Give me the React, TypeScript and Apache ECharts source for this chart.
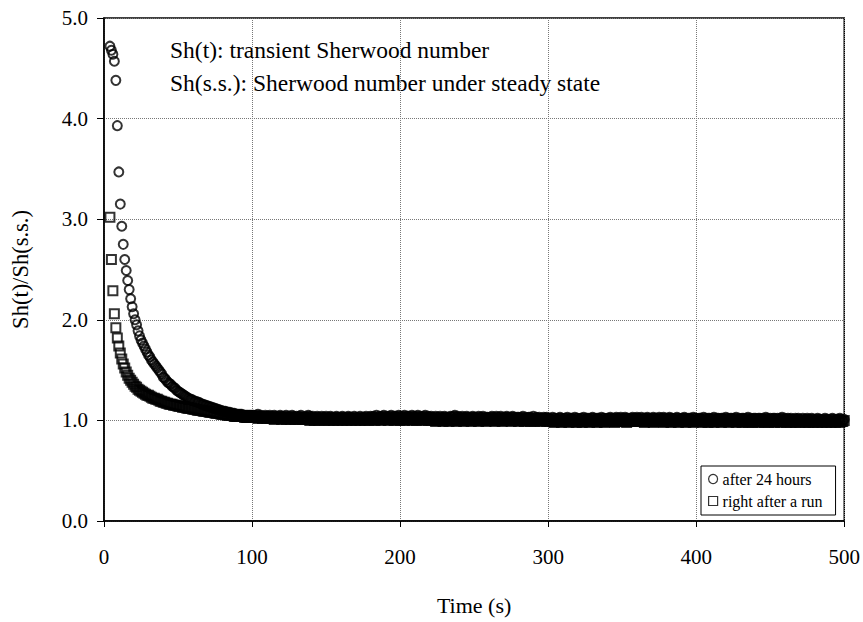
import React, { useEffect, useRef } from "react";
import * as echarts from "echarts";

// Sampling grid: one reading per second from t = 4 s to t = 500 s
const FIRST_TIME = 4;
const TIME_STEP = 1;

// "after 24 hours" (circles), t = 4..100 s
const circleEarly = [
  4.72, 4.68, 4.64, 4.57, 4.38, 3.93, 3.47, 3.15, 2.93, 2.75,
  2.60, 2.49, 2.39, 2.30, 2.21, 2.13, 2.06, 2.00, 1.95, 1.89,
  1.84, 1.80, 1.77, 1.74, 1.71, 1.68, 1.65, 1.63, 1.60, 1.58,
  1.56, 1.54, 1.52, 1.50, 1.48, 1.46, 1.43, 1.42, 1.40, 1.38,
  1.37, 1.36, 1.34, 1.33, 1.32, 1.30, 1.29, 1.28, 1.27, 1.26,
  1.25, 1.24, 1.23, 1.22, 1.21, 1.21, 1.20, 1.19, 1.19, 1.18,
  1.18, 1.17, 1.16, 1.16, 1.15, 1.15, 1.14, 1.14, 1.13, 1.13,
  1.12, 1.12, 1.11, 1.11, 1.10, 1.10, 1.09, 1.09, 1.09, 1.08,
  1.08, 1.08, 1.07, 1.07, 1.07, 1.06, 1.06, 1.06, 1.06, 1.06,
  1.05, 1.05, 1.05, 1.05, 1.05, 1.05, 1.05,
];
// "after 24 hours", t = 101..500 s
const circlePlateau = [
  1.05, 1.04, 1.05, 1.06, 1.04, 1.05, 1.04, 1.03, 1.05, 1.04, 1.04, 1.05, 1.03, 1.04, 1.05, 1.04, 1.03, 1.04, 1.05, 1.04,
  1.03, 1.04, 1.05, 1.03, 1.04, 1.03, 1.05, 1.04, 1.03, 1.04, 1.03, 1.04, 1.05, 1.03, 1.03, 1.04, 1.03, 1.05, 1.04, 1.03,
  1.04, 1.02, 1.03, 1.04, 1.03, 1.02, 1.04, 1.03, 1.03, 1.04, 1.02, 1.03, 1.04, 1.03, 1.02, 1.03, 1.04, 1.03, 1.02, 1.03,
  1.04, 1.03, 1.02, 1.03, 1.04, 1.03, 1.03, 1.02, 1.04, 1.03, 1.02, 1.03, 1.04, 1.02, 1.03, 1.03, 1.04, 1.02, 1.03, 1.04,
  1.03, 1.04, 1.03, 1.05, 1.03, 1.04, 1.03, 1.04, 1.05, 1.03, 1.04, 1.03, 1.04, 1.05, 1.03, 1.04, 1.04, 1.03, 1.05, 1.04,
  1.03, 1.04, 1.05, 1.03, 1.04, 1.04, 1.03, 1.05, 1.04, 1.03, 1.04, 1.05, 1.03, 1.04, 1.03, 1.04, 1.05, 1.03, 1.04, 1.03,
  1.04, 1.03, 1.02, 1.04, 1.03, 1.03, 1.04, 1.02, 1.03, 1.04, 1.03, 1.02, 1.03, 1.04, 1.03, 1.04, 1.05, 1.03, 1.04, 1.03,
  1.03, 1.04, 1.02, 1.03, 1.04, 1.03, 1.02, 1.03, 1.04, 1.03, 1.03, 1.02, 1.04, 1.03, 1.03, 1.04, 1.02, 1.03, 1.03, 1.02,
  1.03, 1.04, 1.03, 1.02, 1.04, 1.03, 1.03, 1.04, 1.02, 1.03, 1.03, 1.04, 1.03, 1.02, 1.03, 1.04, 1.03, 1.02, 1.03, 1.03,
  1.02, 1.03, 1.04, 1.02, 1.03, 1.02, 1.03, 1.03, 1.02, 1.04, 1.02, 1.03, 1.02, 1.03, 1.02, 1.02, 1.03, 1.02, 1.03, 1.02,
  1.02, 1.01, 1.03, 1.02, 1.02, 1.01, 1.02, 1.03, 1.02, 1.01, 1.02, 1.02, 1.03, 1.01, 1.02, 1.02, 1.01, 1.03, 1.02, 1.02,
  1.01, 1.02, 1.02, 1.03, 1.01, 1.02, 1.02, 1.01, 1.02, 1.03, 1.02, 1.01, 1.02, 1.02, 1.01, 1.03, 1.02, 1.02, 1.01, 1.02,
  1.02, 1.03, 1.02, 1.01, 1.02, 1.03, 1.02, 1.02, 1.03, 1.01, 1.02, 1.03, 1.02, 1.02, 1.01, 1.02, 1.03, 1.02, 1.02, 1.03,
  1.02, 1.02, 1.03, 1.01, 1.02, 1.02, 1.03, 1.02, 1.01, 1.02, 1.03, 1.02, 1.02, 1.01, 1.03, 1.02, 1.02, 1.03, 1.02, 1.01,
  1.02, 1.03, 1.02, 1.02, 1.01, 1.02, 1.03, 1.02, 1.01, 1.02, 1.02, 1.03, 1.02, 1.01, 1.02, 1.02, 1.01, 1.03, 1.02, 1.02,
  1.01, 1.02, 1.02, 1.01, 1.03, 1.02, 1.01, 1.02, 1.02, 1.01, 1.02, 1.03, 1.01, 1.02, 1.02, 1.01, 1.02, 1.02, 1.01, 1.03,
  1.02, 1.01, 1.02, 1.02, 1.01, 1.02, 1.03, 1.01, 1.02, 1.01, 1.02, 1.02, 1.01, 1.02, 1.03, 1.01, 1.02, 1.01, 1.02, 1.02,
  1.01, 1.02, 1.02, 1.01, 1.02, 1.01, 1.03, 1.02, 1.01, 1.02, 1.01, 1.02, 1.02, 1.01, 1.02, 1.01, 1.02, 1.03, 1.01, 1.02,
  1.01, 1.02, 1.01, 1.02, 1.01, 1.01, 1.02, 1.01, 1.02, 1.01, 1.00, 1.02, 1.01, 1.01, 1.02, 1.01, 1.01, 1.02, 1.01, 1.00,
  1.01, 1.02, 1.01, 1.01, 1.00, 1.01, 1.02, 1.01, 1.01, 1.00, 1.01, 1.02, 1.01, 1.00, 1.01, 1.01, 1.02, 1.01, 1.00, 1.01,
];

// "right after a run" (squares), t = 4..100 s
const squareEarly = [
  3.02, 2.60, 2.29, 2.06, 1.92, 1.82, 1.74, 1.67, 1.61, 1.56,
  1.52, 1.48, 1.45, 1.42, 1.40, 1.38, 1.36, 1.34, 1.33, 1.31,
  1.30, 1.29, 1.28, 1.27, 1.26, 1.25, 1.25, 1.24, 1.23, 1.22,
  1.22, 1.21, 1.21, 1.20, 1.19, 1.19, 1.18, 1.18, 1.17, 1.17,
  1.16, 1.16, 1.16, 1.15, 1.15, 1.15, 1.14, 1.14, 1.14, 1.13,
  1.13, 1.13, 1.12, 1.12, 1.12, 1.12, 1.11, 1.11, 1.11, 1.10,
  1.10, 1.10, 1.10, 1.09, 1.09, 1.09, 1.09, 1.08, 1.08, 1.08,
  1.08, 1.07, 1.07, 1.07, 1.07, 1.06, 1.06, 1.06, 1.06, 1.05,
  1.05, 1.05, 1.05, 1.05, 1.04, 1.04, 1.04, 1.04, 1.04, 1.04,
  1.04, 1.03, 1.03, 1.03, 1.03, 1.03, 1.03,
];
// "right after a run", t = 101..500 s
const squarePlateau = [
  1.03, 1.04, 1.03, 1.02, 1.04, 1.03, 1.02, 1.03, 1.04, 1.02, 1.03, 1.02, 1.03, 1.02, 1.01, 1.03, 1.02, 1.03, 1.02, 1.01,
  1.02, 1.03, 1.01, 1.02, 1.02, 1.01, 1.03, 1.02, 1.01, 1.02, 1.01, 1.02, 1.03, 1.01, 1.02, 1.01, 1.02, 1.01, 1.00, 1.02,
  1.01, 1.00, 1.02, 1.01, 1.00, 1.01, 1.02, 1.01, 1.00, 1.01, 1.02, 1.00, 1.01, 1.01, 1.00, 1.02, 1.01, 1.00, 1.01, 1.01,
  1.00, 1.01, 1.02, 1.00, 1.01, 1.01, 1.00, 1.02, 1.01, 1.00, 1.01, 1.02, 1.00, 1.01, 1.01, 1.00, 1.02, 1.01, 1.00, 1.01,
  1.01, 1.02, 1.00, 1.01, 1.02, 1.01, 1.00, 1.02, 1.01, 1.01, 1.02, 1.00, 1.01, 1.02, 1.01, 1.00, 1.01, 1.02, 1.01, 1.00,
  1.02, 1.01, 1.00, 1.01, 1.02, 1.01, 1.01, 1.00, 1.02, 1.01, 1.00, 1.01, 1.02, 1.01, 1.00, 1.01, 1.01, 1.02, 1.00, 1.01,
  1.00, 1.01, 1.00, 0.99, 1.01, 1.00, 1.00, 1.01, 0.99, 1.00, 1.01, 1.00, 0.99, 1.00, 1.01, 1.00, 1.00, 0.99, 1.01, 1.00,
  1.01, 1.00, 0.99, 1.00, 1.01, 1.00, 1.00, 0.99, 1.01, 1.00, 1.00, 1.01, 0.99, 1.00, 1.00, 1.01, 1.00, 0.99, 1.00, 1.01,
  1.00, 1.00, 1.01, 0.99, 1.00, 1.01, 1.00, 1.00, 0.99, 1.01, 1.00, 1.00, 1.01, 1.00, 0.99, 1.00, 1.01, 1.00, 1.00, 0.99,
  1.00, 1.01, 1.00, 0.99, 1.00, 1.00, 1.01, 0.99, 1.00, 1.00, 0.99, 1.01, 1.00, 1.00, 0.99, 1.00, 1.00, 1.01, 0.99, 1.00,
  0.99, 1.00, 0.99, 0.98, 1.00, 0.99, 0.99, 1.00, 0.98, 0.99, 1.00, 0.99, 0.99, 0.98, 1.00, 0.99, 0.99, 1.00, 0.98, 0.99,
  1.00, 0.99, 0.98, 0.99, 1.00, 0.99, 0.99, 0.98, 1.00, 0.99, 0.99, 1.00, 0.98, 0.99, 0.99, 1.00, 0.99, 0.98, 0.99, 1.00,
  0.99, 1.00, 1.00, 0.99, 0.98, 1.00, 0.99, 1.00, 1.00, 0.99, 0.99, 1.00, 0.98, 0.99, 1.00, 1.00, 0.99, 0.99, 1.00, 0.99,
  1.00, 0.99, 0.99, 1.00, 0.98, 0.99, 1.00, 0.99, 0.99, 1.00, 0.98, 0.99, 1.00, 0.99, 0.99, 1.00, 0.99, 0.98, 1.00, 0.99,
  0.99, 1.00, 0.98, 0.99, 0.99, 1.00, 0.99, 0.98, 0.99, 1.00, 0.99, 0.99, 0.98, 1.00, 0.99, 0.99, 1.00, 0.98, 0.99, 0.99,
  1.00, 0.99, 0.99, 0.98, 0.99, 1.00, 0.99, 0.98, 0.99, 0.99, 1.00, 0.98, 0.99, 0.99, 1.00, 0.99, 0.98, 0.99, 0.99, 1.00,
  0.99, 0.98, 0.99, 1.00, 0.99, 0.99, 0.98, 0.99, 1.00, 0.99, 0.98, 0.99, 0.99, 1.00, 0.98, 0.99, 0.99, 0.98, 1.00, 0.99,
  0.99, 0.98, 0.99, 0.99, 1.00, 0.98, 0.99, 0.99, 0.98, 1.00, 0.99, 0.99, 0.98, 0.99, 1.00, 0.99, 0.98, 0.99, 0.99, 1.00,
  0.98, 0.99, 0.99, 0.98, 0.99, 1.00, 0.98, 0.99, 0.99, 0.98, 0.99, 0.99, 1.00, 0.98, 0.99, 0.98, 0.99, 0.99, 0.98, 0.99,
  0.99, 0.98, 0.99, 0.99, 0.98, 0.99, 1.00, 0.98, 0.99, 0.99, 0.98, 0.99, 0.99, 0.98, 0.99, 1.00, 0.98, 0.99, 0.99, 1.00,
];

const seriesNames = ["after 24 hours", "right after a run"];
const notes = [
  "Sh(t): transient Sherwood number",
  "Sh(s.s.): Sherwood number under steady state",
];
const xAxisTitle = "Time (s)";
const yAxisTitle = "Sh(t)/Sh(s.s.)";

const FONT = "'Liberation Serif', 'Times New Roman', serif";

function toPoints(values: number[]) {
  return values.map((v, i) => [FIRST_TIME + i * TIME_STEP, v]);
}

export default function App() {
  const ref = useRef<HTMLDivElement>(null);
  useEffect(() => {
    if (!ref.current) return;
    const chart = echarts.init(ref.current, undefined, { renderer: "svg" });
    const hollow = (w: number) => ({
      color: "rgba(0,0,0,0)",
      borderColor: "#000",
      borderWidth: w,
    });
    chart.setOption({
      animation: false,
      backgroundColor: "#fff",
      textStyle: { fontFamily: FONT },
      grid: {
        left: 104,
        right: 18,
        top: 18,
        bottom: 101,
        show: true,
        borderColor: "#000",
        borderWidth: 1.5,
        backgroundColor: "transparent",
      },
      xAxis: {
        type: "value",
        min: 0,
        max: 500,
        interval: 100,
        name: xAxisTitle,
        nameLocation: "middle",
        nameGap: 73,
        nameTextStyle: { fontFamily: FONT, fontSize: 22, color: "#000" },
        axisLine: { show: true, lineStyle: { color: "#000", width: 1.5 } },
        axisTick: { show: true, length: 6, lineStyle: { color: "#000", width: 1 } },
        axisLabel: { fontFamily: FONT, fontSize: 21, color: "#000", margin: 25 },
        splitLine: { show: true, lineStyle: { color: "#777", type: "dotted", width: 1 } },
      },
      yAxis: {
        type: "value",
        min: 0,
        max: 5,
        interval: 1,
        name: yAxisTitle,
        nameLocation: "middle",
        nameGap: 72,
        nameRotate: 90,
        nameTextStyle: { fontFamily: FONT, fontSize: 22.5, color: "#000" },
        axisLine: { show: true, lineStyle: { color: "#000", width: 1.5 } },
        axisTick: { show: true, length: 7, lineStyle: { color: "#000", width: 1 } },
        axisLabel: {
          fontFamily: FONT,
          fontSize: 21,
          color: "#000",
          margin: 16,
          formatter: (v: number) => v.toFixed(1),
        },
        splitLine: { show: true, lineStyle: { color: "#777", type: "dotted", width: 1 } },
      },
      legend: {
        orient: "vertical",
        left: 701,
        top: 466,
        borderColor: "#000",
        borderWidth: 1,
        padding: [5, 13, 6, 7],
        itemGap: 6,
        itemWidth: 9,
        itemHeight: 9,
        textStyle: { fontFamily: FONT, fontSize: 16, color: "#000" },
        data: [
          { name: seriesNames[0], icon: "circle", itemStyle: hollow(1.2) },
          { name: seriesNames[1], icon: "rect", itemStyle: hollow(1.2) },
        ],
      },
      graphic: notes.map((t, i) => ({
        type: "text",
        x: 170,
        y: 50 + i * 33,
        style: {
          text: t,
          fontFamily: FONT,
          fontSize: 23.5,
          fill: "#000",
          verticalAlign: "middle",
        },
      })),
      series: [
        {
          name: seriesNames[0],
          type: "scatter",
          symbol: "circle",
          symbolSize: 9,
          itemStyle: hollow(2),
          silent: true,
          large: false,
          progressive: 0,
          data: toPoints(circleEarly.concat(circlePlateau)),
        },
        {
          name: seriesNames[1],
          type: "scatter",
          symbol: "rect",
          symbolSize: 9,
          itemStyle: hollow(2),
          silent: true,
          large: false,
          progressive: 0,
          data: toPoints(squareEarly.concat(squarePlateau)),
        },
      ],
    });
    return () => chart.dispose();
  }, []);
  return (
    <div
      ref={ref}
      style={{ position: "fixed", left: 0, top: 0, width: 863, height: 622, background: "#fff" }}
    />
  );
}
